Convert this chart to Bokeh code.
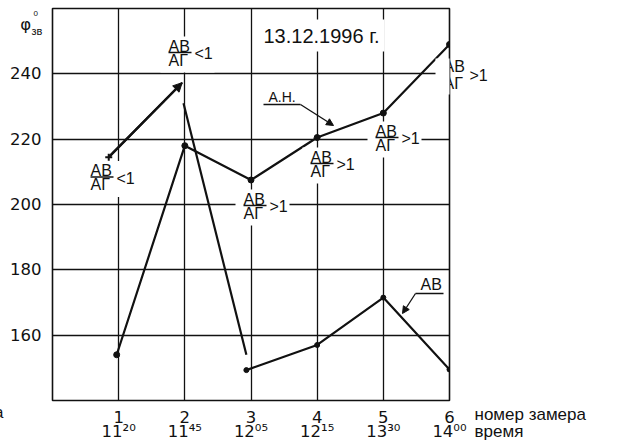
from bokeh.plotting import figure
from bokeh.models import Label, Arrow, NormalHead, BoxAnnotation
from bokeh.embed import file_html
from bokeh.resources import INLINE

# ---------------- data ----------------
measure_no = [1, 2, 3, 4, 5, 6]
time_labels = ["11²⁰", "11⁴⁵", "12⁰⁵", "12¹⁵", "13³⁰", "14⁰⁰"]
y_ticks = [160, 180, 200, 220, 240]

# series "А.Н."
ah_x = [0.97, 2, 3, 4, 5, 6]
ah_y = [154, 218, 207.5, 220.5, 228, 249]

# series "АВ" (drawn in pieces on the original sheet)
ab_rise_x = [0.85, 1.96]
ab_rise_y = [214.5, 237.3]
ab_drop_x = [1.98, 2.93]
ab_drop_y = [231, 154]
ab_x = [2.93, 4, 5, 6]
ab_y = [149.3, 157, 171.5, 149.5]

INK = "#111111"
FONT = "Liberation Sans"
TICK_FONT = "DejaVu Sans"
NBSP = "\u00a0"

W, H = 624, 448
L, R, T, B = 52, 449, 8, 400
X0, X1, Y0, Y1 = 0, 6, 140, 260


def X(px):
    return X0 + (px - L) * (X1 - X0) / (R - L)


def Y(py):
    return Y0 + (B - py) * (Y1 - Y0) / (B - T)


p = figure(width=W, height=H, x_range=(X0, X1), y_range=(Y0, Y1),
           output_backend="svg", toolbar_location=None,
           min_border_left=L, min_border_right=W - R,
           min_border_top=T, min_border_bottom=H - B)
p.background_fill_color = "white"
p.border_fill_color = "white"
p.outline_line_color = INK
p.outline_line_width = 1.6

# axes
p.xaxis.ticker = measure_no
p.xaxis.major_label_overrides = {n: f"{n}\n{t}" for n, t in zip(measure_no, time_labels)}
# the y-axis title symbol sits in the tick-label column, at the top of the axis
phi_pos = round(Y(24), 2)
p.yaxis.ticker = y_ticks + [phi_pos]
p.yaxis.major_label_overrides = {phi_pos: "φ" + NBSP * 2}
for ax in (p.xaxis, p.yaxis):
    ax.axis_line_color = None
    ax.major_tick_line_color = None
    ax.minor_tick_line_color = None
    ax.major_label_text_font = TICK_FONT
    ax.major_label_text_font_size = "16.5px"
    ax.major_label_text_color = INK
    ax.major_label_standoff = 5
p.xaxis.major_label_text_line_height = 0.78
p.xaxis.major_label_standoff = 1

# grid
p.xgrid.ticker = [1, 2, 3, 4, 5]
p.ygrid.ticker = y_ticks
for g in (p.xgrid, p.ygrid):
    g.grid_line_color = INK
    g.grid_line_width = 1.3
    g.grid_line_alpha = 1.0

# ---------------- series ----------------
p.line(ah_x, ah_y, line_color=INK, line_width=2.2)
p.scatter(ah_x, ah_y, size=6, marker="circle", fill_color=INK, line_color=INK)

p.line(ab_rise_x, ab_rise_y, line_color=INK, line_width=2.2)
p.scatter(ab_rise_x[:1], ab_rise_y[:1], size=7, marker="cross", line_color=INK, line_width=2)
p.add_layout(Arrow(end=NormalHead(size=9, fill_color=INK, line_color=INK),
                   x_start=ab_rise_x[0], y_start=ab_rise_y[0],
                   x_end=ab_rise_x[1], y_end=ab_rise_y[1],
                   line_color=INK, line_width=2.2))
p.line(ab_drop_x, ab_drop_y, line_color=INK, line_width=2.2)
p.line(ab_x, ab_y, line_color=INK, line_width=2.2)
p.scatter(ab_x, ab_y, size=5, marker="circle", fill_color=INK, line_color=INK)


# ---------------- annotations ----------------
# labels outside the frame are put in the right side panel, where they are not clipped
def add(obj, panel=None):
    if panel is None:
        p.add_layout(obj)
    else:
        p.add_layout(obj, panel)


def txt(s, px, py, size=16, bg=None, pad=0, panel=None, lh=1.2):
    lab = Label(x=X(px), y=Y(py), text=s, text_font=FONT, text_font_size=f"{size}px",
                text_align="left", text_baseline="middle", text_color=INK,
                text_line_height=lh, background_fill_color=bg, padding=pad)
    add(lab, panel)


def seg(x0, y0, x1, y1, w=1.4, head=False, panel=None):
    add(Arrow(end=NormalHead(size=7, fill_color=INK, line_color=INK) if head else None,
              x_start=X(x0), y_start=Y(y0), x_end=X(x1), y_end=Y(y1),
              line_color=INK, line_width=w), panel)


def box(left, bar):
    p.add_layout(BoxAnnotation(left=X(left - 8), right=X(left + 46), top=Y(bar - 16),
                               bottom=Y(bar + 20), fill_color="white", fill_alpha=1.0,
                               line_color=None))


def frac(left, bar, sign):
    box(left, bar)
    txt("АВ", left, bar - 6.5)
    seg(left, bar, left + 23, bar, w=1.3)
    txt("АГ", left, bar + 7.5)
    txt(sign, left + 26, bar + 1)


frac(90, 176.5, "<1")
frac(168, 52, "<1")
frac(243, 205, ">1")
frac(310, 163, ">1")
frac(375, 137, ">1")

# fraction at the right frame edge
box(443, 74)
txt("АВ\nАГ", 443, 74.5, lh=1.0, panel="right")
seg(443, 74, 466, 74, w=1.3, panel="right")
txt(">1", 469, 75, panel="right")

# date
txt("13.12.1996 г.", 258, 35, size=20, bg="white", pad=5)

# series names with leaders
txt("А.Н.", 268, 96.5, size=14)
seg(263, 104, 300, 104, w=1.3)
seg(300, 104, 333, 125, w=1.3, head=True)

txt("АВ", 420, 284, size=16)
seg(415, 293, 443, 293, w=1.3)
seg(415, 293, 402, 313, w=1.3, head=True)

# superscript / subscript of the y-axis title φ
txt("0", 33, 12.5, size=8, panel="right")
txt("зв", 31, 30, size=11, panel="right")

# x axis titles
txt("номер замера\nвремя", 474, 422.5, size=17, lh=0.94, panel="right")

# fragment of sheet label at the far left edge
txt("а", -6, 412, size=16, panel="right")

open("out.html", "w").write(file_html(p, INLINE))
